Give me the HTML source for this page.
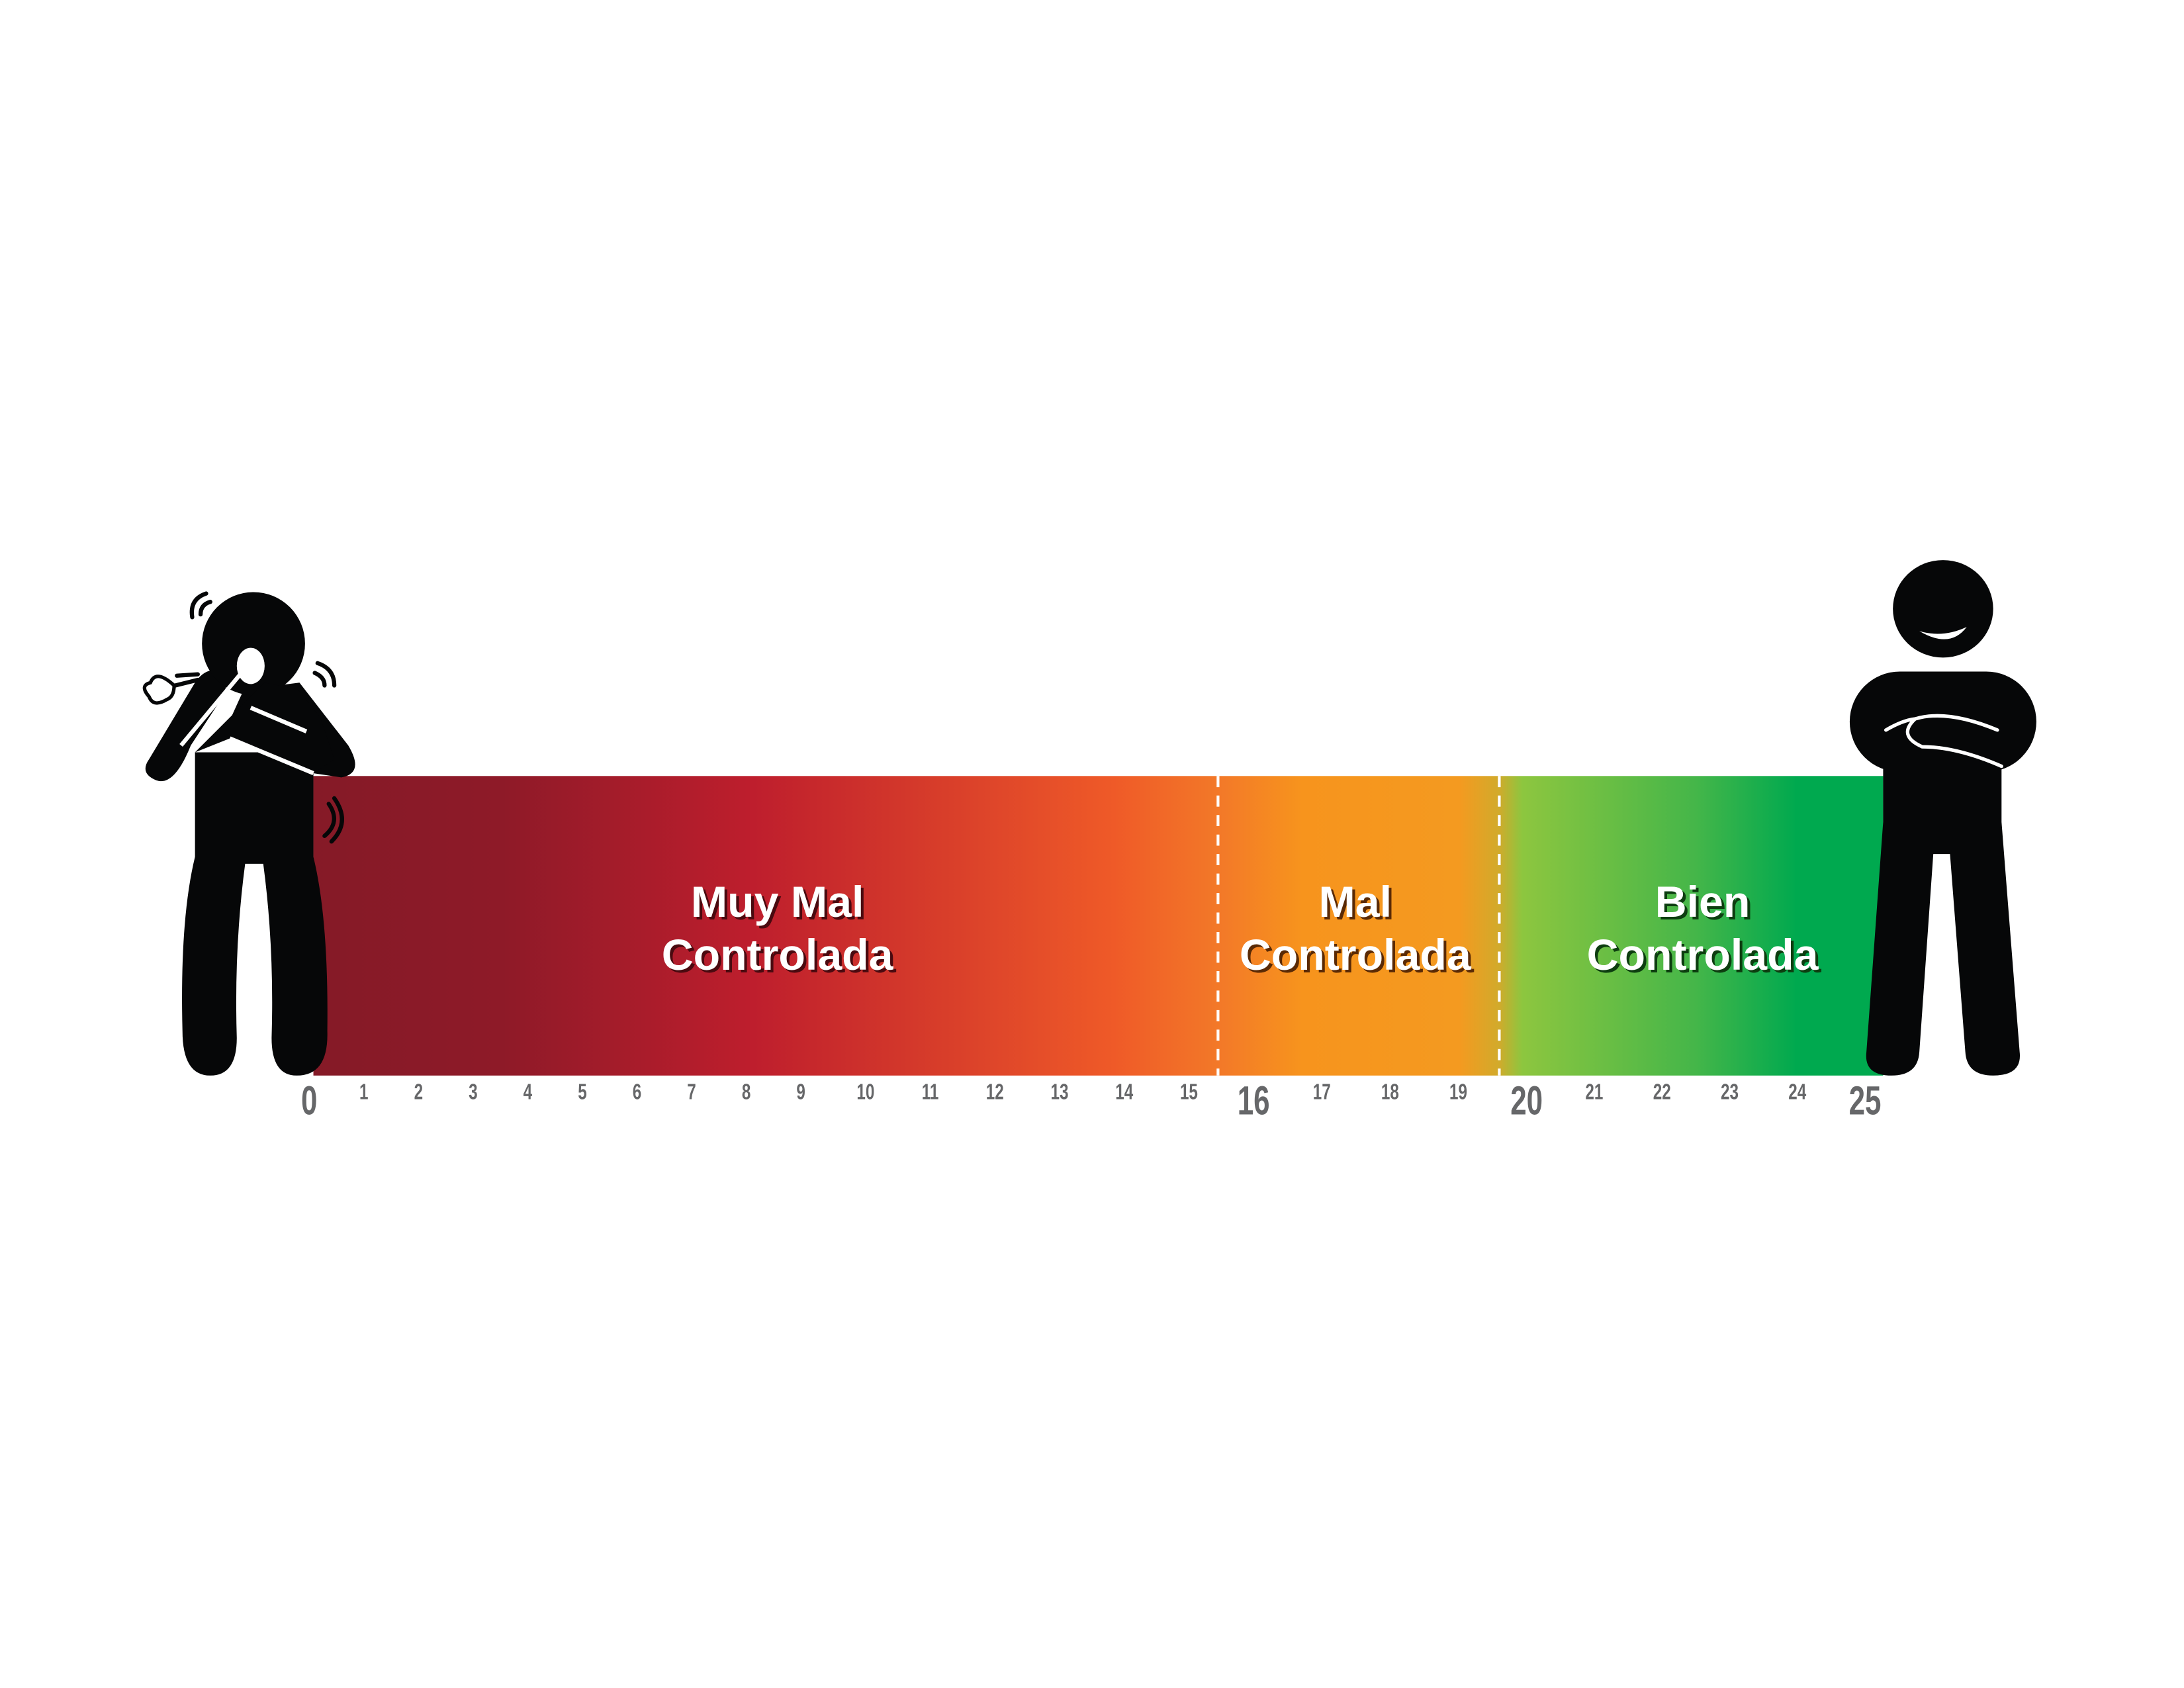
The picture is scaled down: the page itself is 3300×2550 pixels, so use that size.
<!DOCTYPE html>
<html><head><meta charset="utf-8">
<style>
html,body{margin:0;padding:0;background:#fff;}
svg{display:block;}
text{font-family:"Liberation Sans",Arial,sans-serif;font-weight:bold;}
</style></head>
<body>
<svg id="chart" width="3300" height="2550" viewBox="0 0 1568 1211.6" preserveAspectRatio="none" xmlns="http://www.w3.org/2000/svg">
<defs>
<linearGradient id="grad" x1="225" x2="1352" y1="0" y2="0" gradientUnits="userSpaceOnUse">
<stop offset="0" stop-color="#851a27"/>
<stop offset="0.12" stop-color="#8e1a28"/>
<stop offset="0.28" stop-color="#be1e2d"/>
<stop offset="0.51" stop-color="#ef5a28"/>
<stop offset="0.58" stop-color="#f37a28"/>
<stop offset="0.63" stop-color="#f7941d"/>
<stop offset="0.73" stop-color="#f49a20"/>
<stop offset="0.755" stop-color="#d2aa2b"/>
<stop offset="0.77" stop-color="#8dc63f"/>
<stop offset="0.88" stop-color="#45b649"/>
<stop offset="0.945" stop-color="#00a94f"/>
<stop offset="1" stop-color="#00a94f"/>
</linearGradient>
</defs>
<rect x="225" y="557" width="1127" height="215" fill="url(#grad)"/>
<g id="dividers"></g>
<g id="labels"></g>
<g id="ticks"></g>

<g fill="#060708">
  <path d="M140,540 L225,540 L225,615 Q236,660 235,740 Q236,772 213,772 Q195,772 195,745 Q197,680 189,620 L176,620 Q168,680 170,745 Q170,772 151,772 Q131,772 131,740 Q129,660 140,615 Z"/>
  <path d="M107,545 L140,490 Q150,475 165,485 L160,500 L137,535 Q125,565 112,560 Q100,555 107,545 Z"/>
  <path d="M175,495 L215,490 L250,535 Q262,555 245,558 L225,555 L160,528 Z"/>
  <circle cx="182" cy="462" r="37"/>
  <path d="M140,540 L190,490 L214,495 L230,515 L240,545 L225,555 L165,530 Z"/>
  <path d="M130,535 L180,475" stroke="#fff" stroke-width="3" fill="none"/>
  <path d="M165,530 L225,555" stroke="#fff" stroke-width="3" fill="none"/>
  <path d="M180,508 L220,525" stroke="#fff" stroke-width="3" fill="none"/>
  <ellipse cx="180" cy="478" rx="10" ry="13" fill="#fff"/>
  <g fill="none" stroke="#060708" stroke-width="3" stroke-linecap="round">
    <path d="M138,443 Q136,430 148,426"/><path d="M144,441 Q144,434 151,432"/>
    <path d="M228,476 Q240,480 240,492"/><path d="M226,483 Q233,486 233,492"/>
    <path d="M236,577 Q245,590 233,600"/><path d="M240,573 Q252,590 238,604"/>
    <path d="M125,492 Q112,480 108,490 Q100,492 107,500 Q110,508 120,502 Q125,500 125,492 Z" stroke-width="2.5"/>
    <path d="M127,485 L142,484 M126,492 L142,488"/>
  </g>
</g>

<g fill="#060708">
  <ellipse cx="1395" cy="437" rx="36" ry="35"/>
  <path d="M1378,453 Q1395,458 1412,450 Q1400,466 1378,453 Z" fill="#fff"/>
  <rect x="1328" y="482" width="134" height="72" rx="36"/>
  <path d="M1352,550 L1437,550 L1437,590 L1450,755 Q1452,772 1431,772 Q1412,772 1411,755 L1400,613 L1388,613 L1378,755 Q1377,772 1358,772 Q1338,772 1340,755 L1352,590 Z"/>
  <path d="M1354,524 Q1366,517 1375,516 Q1398,509 1434,524 M1375,516 Q1362,528 1380,536 Q1405,536 1437,550" fill="none" stroke="#fff" stroke-width="2.5" stroke-linecap="round"/>
</g>
</svg>
<script>
const tickValues = [0,1,2,3,4,5,6,7,8,9,10,11,12,13,14,15,16,17,18,19,20,21,22,23,24,25];
const majorTicks = [0,16,20,25];
const zoneBounds = [15.45,19.6];
const zoneNames = [["Muy Mal","Controlada"],["Mal","Controlada"],["Bien","Controlada"]];
const zoneCenters = [8.57,17.49,22.6];

const bx = [0,9,16,20,25];
const px = [222,575,900,1096,1339];
function xScale(v){
  for(let i=0;i<bx.length-1;i++){
    if(v<=bx[i+1]||i===bx.length-2){
      return px[i]+(v-bx[i])/(bx[i+1]-bx[i])*(px[i+1]-px[i]);
    }
  }
}
const NS="http://www.w3.org/2000/svg";
const tg=document.getElementById('ticks');
tickValues.forEach(v=>{
  const big=majorTicks.includes(v);
  const t=document.createElementNS(NS,'text');
  
  
  t.setAttribute('text-anchor','middle');
  t.setAttribute('fill','#666769');
  t.setAttribute('font-size',big?29:16);
  t.setAttribute('transform','translate('+xScale(v)+','+(big?800:789)+') scale(0.72,1)');
  t.textContent=v;
  tg.appendChild(t);
});
const dg=document.getElementById('dividers');
zoneBounds.forEach(v=>{
  const l=document.createElementNS(NS,'line');
  
  
  const x=xScale(v);
  l.setAttribute('x1',x);l.setAttribute('x2',x);
  l.setAttribute('y1',557);l.setAttribute('y2',772);
  l.setAttribute('stroke','#fff');l.setAttribute('stroke-width','2');
  l.setAttribute('stroke-dasharray','8,6');
  dg.appendChild(l);
});
const lg=document.getElementById('labels');
const shadows=['#4a0a10','#5a2a05','#0d3d10'];
zoneNames.forEach((lines,i)=>{
  const x=xScale(zoneCenters[i]);
  lines.forEach((s,j)=>{
    const y=658+j*38;
    const sh=document.createElementNS(NS,'text');
    
    
    sh.setAttribute('x',x+2);sh.setAttribute('y',y+2);
    sh.setAttribute('text-anchor','middle');sh.setAttribute('font-size','31.5');
    sh.setAttribute('fill',shadows[i]);sh.textContent=s;
    lg.appendChild(sh);
    const t=document.createElementNS(NS,'text');
    
    
    t.setAttribute('x',x);t.setAttribute('y',y);
    t.setAttribute('text-anchor','middle');t.setAttribute('font-size','31.5');
    t.setAttribute('fill','#fff');t.textContent=s;
    lg.appendChild(t);
  });
});
</script>
</body></html>
